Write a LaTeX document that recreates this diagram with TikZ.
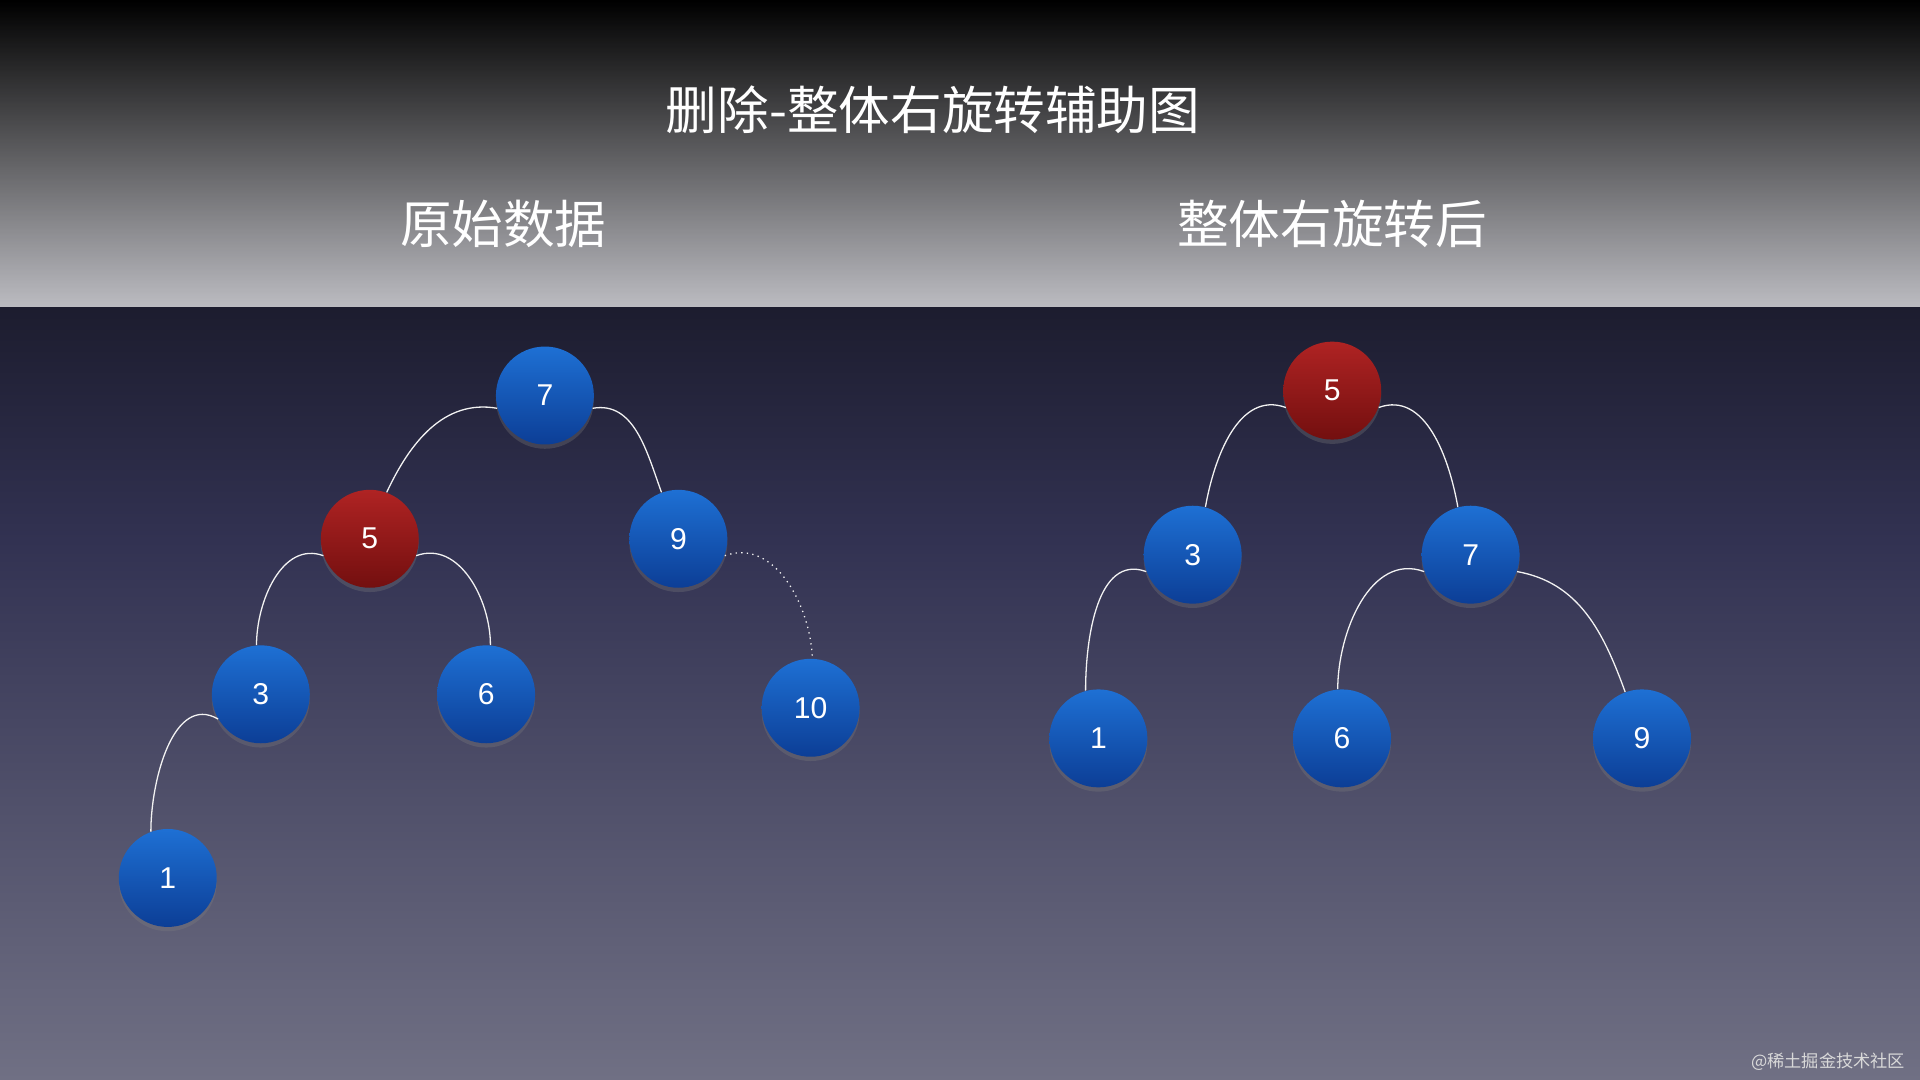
\documentclass[tikz,border=0pt]{standalone}
\usepackage{fontspec}
\usetikzlibrary{shadows}
\setmainfont{Liberation Sans}
\newfontfamily\cjk{Noto Sans CJK SC}
\definecolor{bgbot}{RGB}{112,112,132}
\definecolor{bgmid}{RGB}{50,50,82}
\definecolor{btop}{RGB}{30,112,212}
\definecolor{bbot}{RGB}{12,62,150}
\definecolor{rtop}{RGB}{175,35,35}
\definecolor{rbot}{RGB}{115,15,15}
\begin{document}
\begin{tikzpicture}[x=0.02cm,y=-0.02cm,
  bn/.style={circle,minimum size=1.6cm,inner sep=0pt,top color=btop,bottom color=bbot,text=white,font=\fontsize{14}{14}\selectfont,drop shadow={opacity=0.3,shadow xshift=0pt,shadow yshift=-2pt}},
  rn/.style={bn,top color=rtop,bottom color=rbot},
  ed/.style={draw=white!90!gray,line width=0.6pt},
  ttl/.style={text=white,font=\cjk\fontsize{24}{24}\selectfont}]
\shade[top color=black,bottom color=bgmid] (0,0) rectangle (1568,441);
\shade[top color=bgmid,bottom color=bgbot] (0,441) rectangle (1568,882);
\shade[top color=black,bottom color=black!0,opacity=0.7] (0,0) rectangle (1568,250);
\useasboundingbox (0,0) rectangle (1568,882);
\node[ttl] (title) at (762,90) {删除-整体右旋转辅助图};
\node[ttl] (tl) at (411,183) {原始数据};
\node[ttl] (tr) at (1088,183) {整体右旋转后};
% left tree
\node[bn] (a7) at (445,323) {7};
\node[rn] (a5) at (302,440) {5};
\node[bn] (a9) at (554,440) {9};
\node[bn] (a3) at (213,567) {3};
\node[bn] (a6) at (397,567) {6};
\node[bn] (a10) at (662,578) {10};
\node[bn] (a1) at (137,717) {1};
\draw[ed] (a7.195) to[out=170,in=65] (a5.70);
\draw[ed] (a7.-15) to[out=10,in=110] (a9.110);
\draw[ed] (a5.200) to[out=160,in=90] (a3.95);
\draw[ed] (a5.-20) to[out=20,in=90] (a6.85);
\draw[ed,dotted] (a9.-20) to[out=20,in=92] (a10.88);
\draw[ed] (a3.210) to[out=150,in=90] (a1.110);
% right tree
\node[rn] (b5) at (1088,319) {5};
\node[bn] (b3) at (974,453) {3};
\node[bn] (b7) at (1201,453) {7};
\node[bn] (b1) at (897,603) {1};
\node[bn] (b6) at (1096,603) {6};
\node[bn] (b9) at (1341,603) {9};
\draw[ed] (b5.200) to[out=160,in=80] (b3.75);
\draw[ed] (b5.-20) to[out=20,in=100] (b7.105);
\draw[ed] (b3.200) to[out=160,in=90] (b1.105);
\draw[ed] (b7.200) to[out=160,in=90] (b6.95);
\draw[ed] (b7.-20) to[out=-10,in=110] (b9.110);
\node[text=white!70!gray,font=\cjk\fontsize{8}{8}\selectfont,anchor=east] (wm) at (1562,867) {@稀土掘金技术社区};
\end{tikzpicture}
\end{document}
